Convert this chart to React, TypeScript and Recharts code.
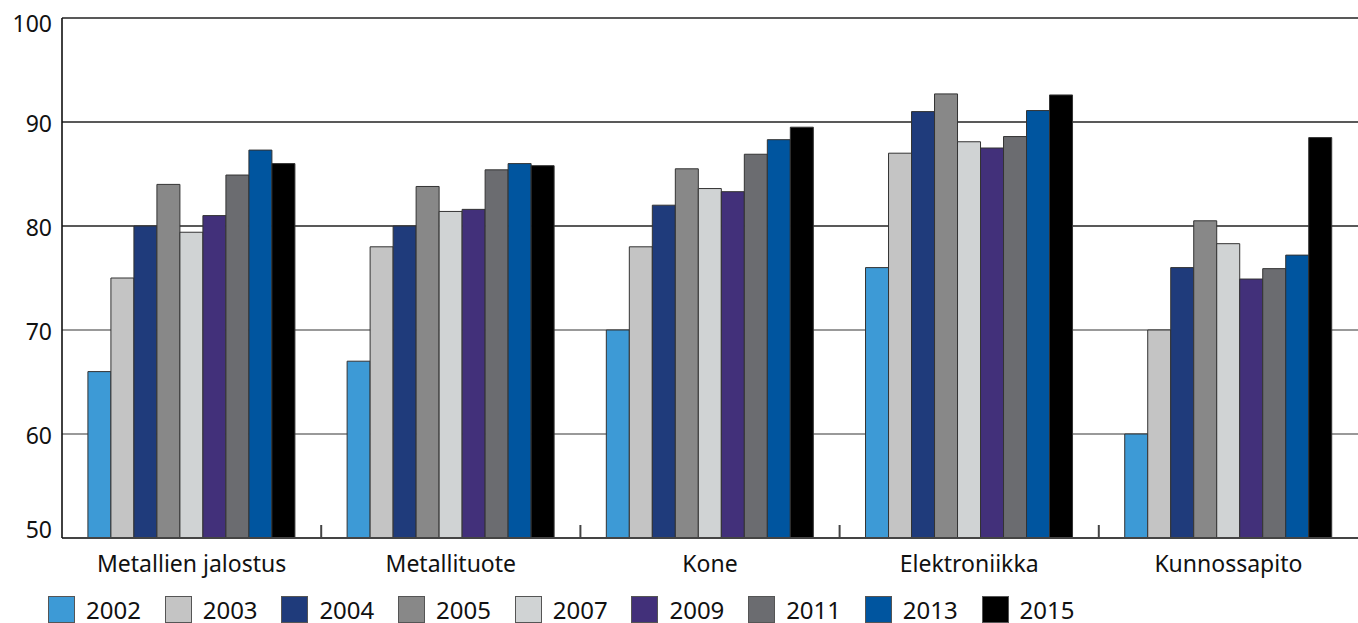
import React from 'react';
import { BarChart, Bar, XAxis, YAxis, CartesianGrid, Legend } from 'recharts';

const categories = ['Metallien jalostus', 'Metallituote', 'Kone', 'Elektroniikka', 'Kunnossapito'];
const years = ['2002', '2003', '2004', '2005', '2007', '2009', '2011', '2013', '2015'];
const yearColors = ['#3d9ad6', '#c4c4c4', '#1f3b7b', '#888888', '#d0d3d4', '#42307a', '#6b6c70', '#00559f', '#000000'];
const yTicks = [50, 60, 70, 80, 90, 100];

// per-year values, one per category
const v2002 = [66, 67, 70, 76, 60];
const v2003 = [75, 78, 78, 87, 70];
const v2004 = [80, 80, 82, 91, 76];
const v2005 = [84, 83.8, 85.5, 92.7, 80.5];
const v2007 = [79.4, 81.4, 83.6, 88.1, 78.3];
const v2009 = [81, 81.6, 83.3, 87.5, 74.9];
const v2011 = [84.9, 85.4, 86.9, 88.6, 75.9];
const v2013 = [87.3, 86, 88.3, 91.1, 77.2];
const v2015 = [86, 85.8, 89.5, 92.6, 88.5];

const seriesValues = [v2002, v2003, v2004, v2005, v2007, v2009, v2011, v2013, v2015];

const data = categories.map((name, i) => {
  const row: Record<string, any> = { name };
  years.forEach((y, j) => {
    row[y] = seriesValues[j][i];
  });
  return row;
});

const FONT = '"Noto Sans", sans-serif';
const X_TICK_MARGIN = 18;
const EDGE_TICK = 13;

// lower grid lines are drawn lighter than the upper ones
const gridLine = (props: any) => {
  const value = yTicks[props.index];
  const stroke = value === 50 ? '#444' : value <= 70 ? '#777' : '#222';
  return (
    <line
      key={`grid-${props.index}`}
      x1={props.x1}
      y1={props.y1}
      x2={props.x2}
      y2={props.y2}
      stroke={stroke}
      strokeWidth={1.6}
    />
  );
};

// category label, plus a short inward tick on the left edge of the band
const XTick = (props: any) => {
  const { x, y, payload, index } = props;
  const half = payload.offset ?? 0;
  const axisY = y - X_TICK_MARGIN;
  return (
    <g>
      {index > 0 && half > 0 && (
        <line x1={x - half} x2={x - half} y1={axisY} y2={axisY - EDGE_TICK} stroke="#444" strokeWidth={2} />
      )}
      <text x={x} y={y} dy="0.71em" textAnchor="middle" fill="#111" fontSize={23} fontFamily={FONT}>
        {payload.value}
      </text>
    </g>
  );
};

// keep the end labels inside the frame
const YTick = (props: any) => {
  const { x, y, payload } = props;
  const v = payload.value;
  const shift = v === 100 ? 6 : v === 50 ? -8 : 2;
  return (
    <text x={x} y={y + shift} dy="0.355em" textAnchor="end" fill="#111" fontSize={23} fontFamily={FONT}>
      {v}
    </text>
  );
};

const renderLegend = () => (
  <div style={{ display: 'flex', paddingLeft: 48, paddingTop: 7, height: 28, fontFamily: FONT }}>
    {years.map((y, i) => (
      <div key={y} style={{ display: 'flex', alignItems: 'center', width: 116.7 }}>
        <span
          style={{
            display: 'inline-block',
            width: 27,
            height: 27,
            boxSizing: 'border-box',
            background: yearColors[i],
            border: '1px solid #555',
            marginRight: 11,
          }}
        />
        <span style={{ fontSize: 24, color: '#111', lineHeight: '27px' }}>{y}</span>
      </div>
    ))}
  </div>
);

export default function App() {
  return (
    <div style={{ position: 'absolute', left: 0, top: 0, background: '#fff' }}>
      <BarChart
        width={1358}
        height={623}
        data={data}
        margin={{ top: 18, right: 0, left: 0, bottom: 0 }}
        barCategoryGap="10%"
        barGap={0}
      >
        <CartesianGrid vertical={false} horizontal={gridLine} />
        <XAxis
          dataKey="name"
          height={50}
          interval={0}
          tickLine={false}
          tickSize={0}
          tickMargin={X_TICK_MARGIN}
          axisLine={{ stroke: '#444', strokeWidth: 2 }}
          tick={<XTick />}
        />
        <YAxis
          width={62}
          domain={[50, 100]}
          ticks={yTicks}
          interval={0}
          tickLine={false}
          tickSize={0}
          tickMargin={10}
          axisLine={{ stroke: '#111', strokeWidth: 1.6 }}
          tick={<YTick />}
        />
        <Legend verticalAlign="bottom" align="left" content={renderLegend} />
        {years.map((y, i) => (
          <Bar
            key={y}
            dataKey={y}
            fill={yearColors[i]}
            stroke="#333"
            strokeWidth={1}
            isAnimationActive={false}
          />
        ))}
      </BarChart>
    </div>
  );
}
